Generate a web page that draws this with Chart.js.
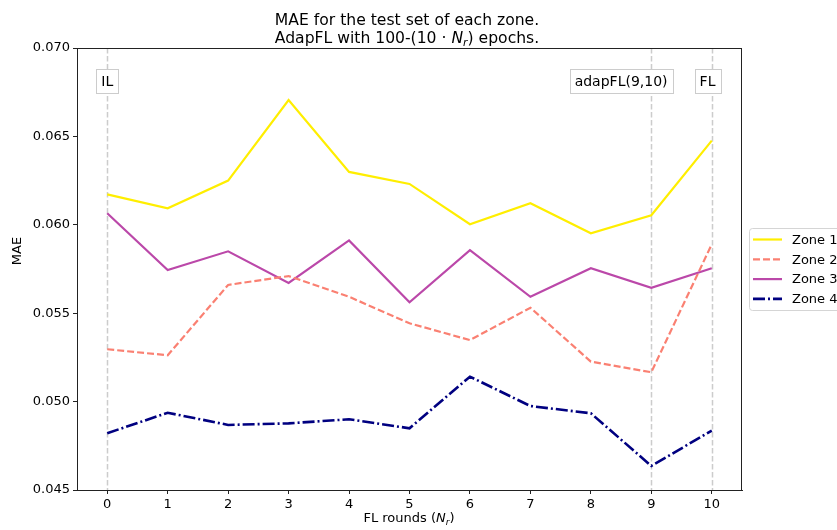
<!DOCTYPE html>
<html>
<head>
<meta charset="utf-8">
<script src="https://cdn.jsdelivr.net/npm/chart.js@4.4.0/dist/chart.umd.min.js"></script>
<style>
  html, body { margin: 0; padding: 0; background: #fff; }
  #wrap { width: 837px; height: 530px; }
</style>
</head>
<body>
<div id="wrap"><canvas id="maeChart" width="837" height="530"></canvas></div>
<script>
// FL rounds on the x axis
const rounds = [0, 1, 2, 3, 4, 5, 6, 7, 8, 9, 10];

// MAE per zone
const zone1 = [0.06172, 0.06093, 0.06250, 0.06706, 0.06299, 0.06231, 0.06003, 0.06122, 0.05952, 0.06054, 0.06476];
const zone2 = [0.05296, 0.05262, 0.05660, 0.05710, 0.05593, 0.05443, 0.05348, 0.05531, 0.05226, 0.05166, 0.05890];
const zone3 = [0.06065, 0.05744, 0.05850, 0.05671, 0.05912, 0.05562, 0.05857, 0.05593, 0.05754, 0.05644, 0.05754];
const zone4 = [0.04821, 0.04937, 0.04868, 0.04877, 0.04900, 0.04849, 0.05141, 0.04975, 0.04934, 0.04636, 0.04836];

const yTicks = [0.045, 0.050, 0.055, 0.060, 0.065, 0.070];

// vertical reference lines and their tags
const markerRounds = [0, 9, 10];
const markerLabels = ["IL", "adapFL(9,10)", "FL"];

const FONT = "DejaVu Sans";
Chart.defaults.font.family = FONT;
Chart.defaults.color = "#000";

const series = [
  { label: "Zone 1", data: zone1, color: "#ffee00", dash: [], width: 2.2 },
  { label: "Zone 2", data: zone2, color: "#fa8072", dash: [7, 3], width: 2.2 },
  { label: "Zone 3", data: zone3, color: "#bb48a9", dash: [], width: 2.2 },
  { label: "Zone 4", data: zone4, color: "#000080", dash: [12, 3, 2, 3], width: 2.6 }
];

// draws text with italic / subscript pieces, centred on cx
function drawRich(ctx, parts, cx, y, size) {
  const fontOf = p => (p.italic ? "oblique " : "") + (p.sub ? size * 0.7 : size) + "px " + FONT;
  let total = 0;
  parts.forEach(p => { ctx.font = fontOf(p); total += ctx.measureText(p.t).width; });
  let x = cx - total / 2;
  ctx.textAlign = "left";
  ctx.textBaseline = "alphabetic";
  parts.forEach(p => {
    ctx.font = fontOf(p);
    ctx.fillText(p.t, x, p.sub ? y + size * 0.22 : y);
    x += ctx.measureText(p.t).width;
  });
}

const decor = {
  id: "decor",
  beforeDatasetsDraw(chart) {
    const { ctx, chartArea: a, scales: { x } } = chart;
    ctx.save();
    ctx.strokeStyle = "#cccccc";
    ctx.lineWidth = 1.5;
    ctx.setLineDash([5.5, 2.5]);
    markerRounds.forEach(r => {
      const px = Math.round(x.getPixelForValue(r)) + 0.5;
      ctx.beginPath();
      ctx.moveTo(px, a.top);
      ctx.lineTo(px, a.bottom);
      ctx.stroke();
    });
    ctx.restore();
  },
  afterDatasetsDraw(chart) {
    const { ctx, chartArea: a, scales: { x } } = chart;
    ctx.save();

    // frame
    ctx.strokeStyle = "#222";
    ctx.lineWidth = 1;
    ctx.strokeRect(a.left + 0.5, a.top + 0.5, a.right - a.left - 1, a.bottom - a.top);

    // tags on the reference lines
    const shift = [0, -0.5, -0.07];
    ctx.font = "14px " + FONT;
    ctx.textAlign = "center";
    ctx.textBaseline = "middle";
    markerLabels.forEach((txt, i) => {
      const cx = x.getPixelForValue(markerRounds[i] + shift[i]);
      const w = ctx.measureText(txt).width + 10;
      ctx.fillStyle = "#fff";
      ctx.fillRect(cx - w / 2, 69.5, w, 24);
      ctx.strokeStyle = "#cccccc";
      ctx.strokeRect(Math.round(cx - w / 2) + 0.5, 69.5, Math.round(w), 24);
      ctx.fillStyle = "#000";
      ctx.fillText(txt, cx, 82);
    });

    // legend
    ctx.fillStyle = "rgba(255,255,255,0.8)";
    ctx.strokeStyle = "#d5d5d5";
    ctx.lineWidth = 1;
    ctx.beginPath();
    ctx.roundRect(749.5, 228.5, 110, 82, 3);
    ctx.fill();
    ctx.stroke();
    series.forEach((s, i) => {
      const y = 239.5 + i * 19.8;
      ctx.strokeStyle = s.color;
      ctx.lineWidth = s.width;
      ctx.setLineDash(s.dash);
      ctx.beginPath();
      ctx.moveTo(753, y);
      ctx.lineTo(782, y);
      ctx.stroke();
      ctx.setLineDash([]);
      ctx.fillStyle = "#000";
      ctx.font = "13px " + FONT;
      ctx.textAlign = "left";
      ctx.textBaseline = "middle";
      ctx.fillText(s.label, 792, y + 1);
    });

    // title
    ctx.fillStyle = "#000";
    drawRich(ctx, [{ t: "MAE for the test set of each zone." }], 407, 25, 15.6);
    drawRich(ctx, [
      { t: "AdapFL with 100-(10 \u00b7 " },
      { t: "N", italic: true },
      { t: "r", italic: true, sub: true },
      { t: ") epochs." }
    ], 407, 43, 15.6);

    // axis titles
    drawRich(ctx, [
      { t: "FL rounds (" },
      { t: "N", italic: true },
      { t: "r", italic: true, sub: true },
      { t: ")" }
    ], 409, 522, 13);

    ctx.save();
    ctx.translate(18, 251);
    ctx.rotate(-Math.PI / 2);
    ctx.font = "13px " + FONT;
    ctx.textAlign = "center";
    ctx.textBaseline = "middle";
    ctx.fillText("MAE", 0, 0);
    ctx.restore();

    ctx.restore();
  }
};

new Chart(document.getElementById("maeChart"), {
  type: "line",
  data: {
    datasets: series.map(s => ({
      label: s.label,
      data: rounds.map((r, i) => ({ x: r, y: s.data[i] })),
      borderColor: s.color,
      backgroundColor: s.color,
      borderWidth: s.width,
      borderDash: s.dash,
      borderCapStyle: "butt",
      pointRadius: 0,
      tension: 0,
      fill: false
    }))
  },
  options: {
    responsive: false,
    animation: false,
    devicePixelRatio: 1,
    layout: { padding: { left: 0, right: 95, top: 48, bottom: 0 } },
    plugins: {
      legend: { display: false },
      title: { display: false },
      tooltip: { enabled: false }
    },
    scales: {
      x: {
        type: "linear",
        min: -0.5,
        max: 10.5,
        afterBuildTicks: s => { s.ticks = rounds.map(v => ({ value: v })); },
        afterFit: s => { s.height = 40; },
        ticks: { font: { size: 13 }, color: "#000", padding: 3, maxRotation: 0, autoSkip: false },
        grid: { display: true, drawOnChartArea: false, drawTicks: true, tickLength: 4, color: "#222" },
        border: { display: true, color: "#222", width: 1 }
      },
      y: {
        min: 0.045,
        max: 0.070,
        afterBuildTicks: s => { s.ticks = yTicks.map(v => ({ value: v })); },
        afterFit: s => { s.width = 77; },
        ticks: { font: { size: 13 }, color: "#000", padding: 3, callback: v => v.toFixed(3) },
        grid: { display: true, drawOnChartArea: false, drawTicks: true, tickLength: 4, color: "#222" },
        border: { display: true, color: "#222", width: 1 }
      }
    }
  },
  plugins: [decor]
});
</script>
</body>
</html>
